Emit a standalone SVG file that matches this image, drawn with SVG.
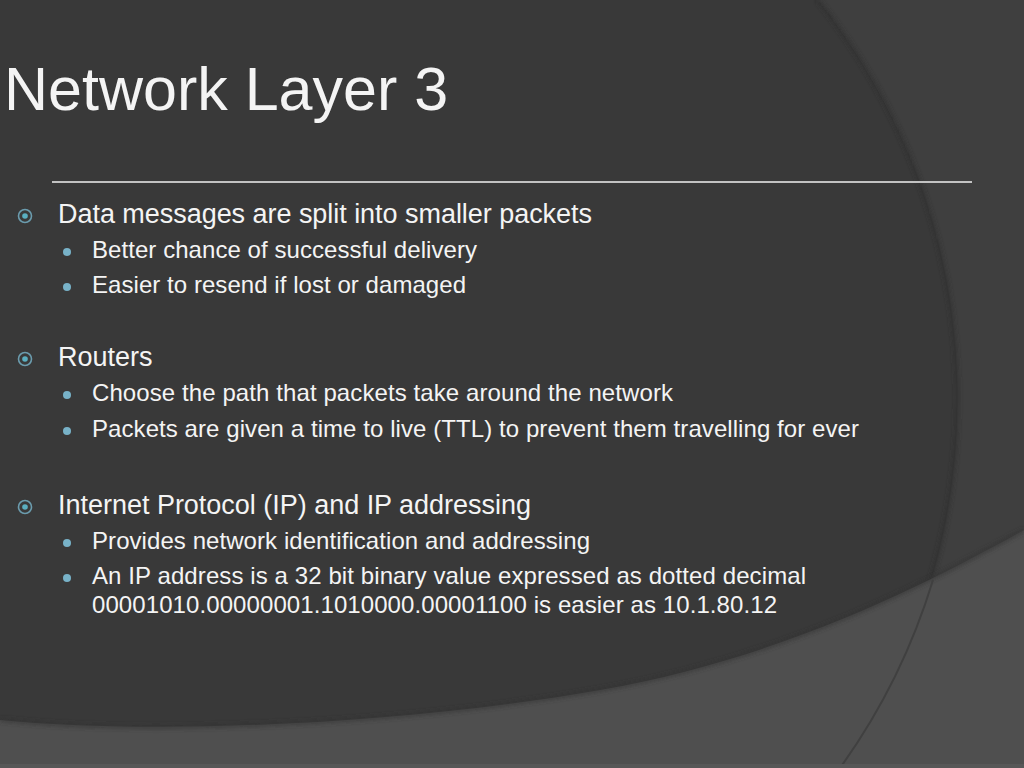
<svg xmlns="http://www.w3.org/2000/svg" width="1024" height="768" viewBox="0 0 1024 768">
<defs>
<style>
.t{font-family:"Liberation Sans",Arial,sans-serif;fill:#f4f4f4}
.l1{font-size:27px}
.l2{font-size:24px}
.ring{fill:none;stroke:#6b9cae;stroke-width:1.6}
.dot1{fill:#5aaec0}
.dot2{fill:#78b2c8}
</style>
<filter id="sh" x="-10%" y="-10%" width="120%" height="120%"><feGaussianBlur stdDeviation="2"/></filter>
</defs>
<g id="background">
<rect width="1024" height="768" fill="#393939"/>
<path d="M818,0 A640,640 0 0 1 840,768 L1024,768 L1024,0 Z" fill="#3f3f3f"/>
<path d="M818,0 A640,640 0 0 1 840,768" fill="none" stroke="#2e2e2e" stroke-width="3" filter="url(#sh)" opacity="0.8"/>
<path d="M0,720 C150,735 400,725 600,690 C800,655 950,570 1024,530 L1024,768 L0,768 Z" fill="#4f4f4f"/>
<path d="M0,720 C150,735 400,725 600,690 C800,655 950,570 1024,530" fill="none" stroke="#333" stroke-width="3" filter="url(#sh)" opacity="0.8"/>
<path d="M933,580 A640,640 0 0 1 840,768" fill="none" stroke="#404040" stroke-width="2"/>
<rect x="0" y="764" width="1024" height="4" fill="#575757"/>
</g>
<g id="title">
<text class="t" x="4" y="110" font-size="61">Network Layer 3</text>
<line x1="52" y1="182" x2="972" y2="182" stroke="#f0f0f0" stroke-width="1.5"/>
</g>
<g id="bullets">
<circle class="ring" cx="25" cy="216" r="6.5"/><circle class="dot1" cx="25" cy="216" r="2.8"/>
<text class="t l1" x="58" y="223" textLength="534" lengthAdjust="spacing">Data messages are split into smaller packets</text>
<circle class="dot2" cx="67" cy="252" r="4"/>
<text class="t l2" x="92" y="258" textLength="385" lengthAdjust="spacing">Better chance of successful delivery</text>
<circle class="dot2" cx="67" cy="287" r="4"/>
<text class="t l2" x="92" y="293" textLength="374" lengthAdjust="spacing">Easier to resend if lost or damaged</text>

<circle class="ring" cx="25" cy="359" r="6.5"/><circle class="dot1" cx="25" cy="359" r="2.8"/>
<text class="t l1" x="58" y="366">Routers</text>
<circle class="dot2" cx="67" cy="395" r="4"/>
<text class="t l2" x="92" y="401" textLength="581" lengthAdjust="spacing">Choose the path that packets take around the network</text>
<circle class="dot2" cx="67" cy="431" r="4"/>
<text class="t l2" x="92" y="437" textLength="767" lengthAdjust="spacing">Packets are given a time to live (TTL) to prevent them travelling for ever</text>

<circle class="ring" cx="25" cy="507" r="6.5"/><circle class="dot1" cx="25" cy="507" r="2.8"/>
<text class="t l1" x="58" y="514" textLength="473" lengthAdjust="spacing">Internet Protocol (IP) and IP addressing</text>
<circle class="dot2" cx="67" cy="543" r="4"/>
<text class="t l2" x="92" y="549" textLength="498" lengthAdjust="spacing">Provides network identification and addressing</text>
<circle class="dot2" cx="67" cy="578" r="4"/>
<text class="t l2" x="92" y="584" textLength="714" lengthAdjust="spacing">An IP address is a 32 bit binary value expressed as dotted decimal</text>
<text class="t l2" x="92" y="613" textLength="685" lengthAdjust="spacing">00001010.00000001.1010000.00001100 is easier as 10.1.80.12</text>
</g>
</svg>
